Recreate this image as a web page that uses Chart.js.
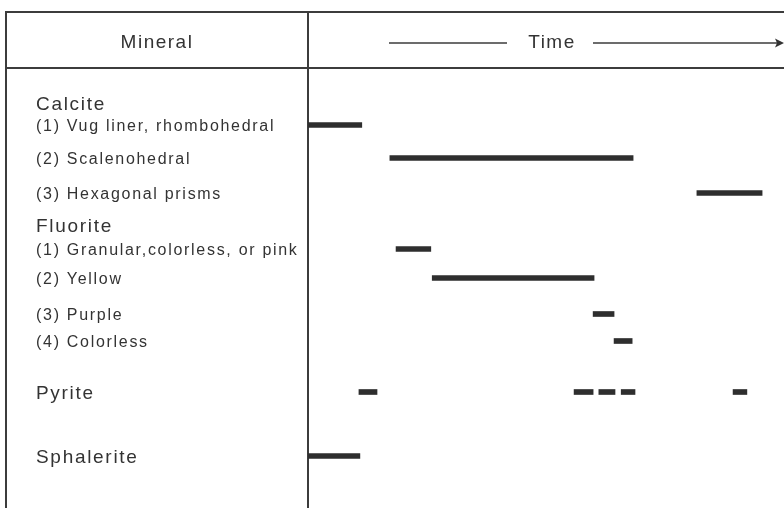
<!DOCTYPE html>
<html>
<head>
<meta charset="utf-8">
<script src="https://cdn.jsdelivr.net/npm/chart.js@4"></script>
<style>
  body { margin: 0; background: #fff; }
</style>
</head>
<body>
<canvas id="myChart" width="784" height="508"></canvas>
<script>
// row labels on the left, top to bottom
var minerals = [
  'Calcite',
  '(1) Vug liner, rhombohedral',
  '(2) Scalenohedral',
  '(3) Hexagonal prisms',
  'Fluorite',
  '(1) Granular,colorless, or pink',
  '(2) Yellow',
  '(3) Purple',
  '(4) Colorless',
  'Pyrite',
  'Sphalerite'
]
// vertical place of each row (down from the header line)
var rowPos = [35, 57, 90, 125, 157, 181, 210, 246, 273, 324, 388]
var headings = ['Calcite', 'Fluorite', 'Pyrite', 'Sphalerite']

// time spans (0 = start of sequence, 100 = end)
var barMineral = [
  '(1) Vug liner, rhombohedral',
  '(2) Scalenohedral',
  '(3) Hexagonal prisms',
  '(1) Granular,colorless, or pink',
  '(2) Yellow',
  '(3) Purple',
  '(4) Colorless',
  'Pyrite', 'Pyrite', 'Pyrite', 'Pyrite', 'Pyrite',
  'Sphalerite'
]
var barStart = [0, 17.2, 81.7, 18.5, 26.1, 59.9, 64.3, 10.7, 55.9, 61.1, 65.8, 89.3, 0]
var barEnd   = [11.3, 68.3, 95.4, 25.8, 60.1, 64.3, 68.1, 14.5, 59.9, 64.5, 68.7, 92.2, 10.9]

var spans = []
for (var i = 0; i < barMineral.length; i++) {
  spans.push({ x: [barStart[i], barEnd[i]], y: rowPos[minerals.indexOf(barMineral[i])] })
}

var ink = '#333'
var font = '"Liberation Sans", Arial, sans-serif'

// header box: Mineral | ---- Time ---->
var headerPlugin = {
  id: 'header',
  beforeDraw: function(chart) {
    chart.ctx.letterSpacing = '1.7px'
  },
  afterDraw: function(chart) {
    var ctx = chart.ctx
    var left = chart.chartArea.left
    ctx.save()
    ctx.letterSpacing = '1.5px'
    ctx.strokeStyle = '#3c3c3c'
    ctx.lineWidth = 2
    ctx.beginPath()
    ctx.moveTo(6, 12); ctx.lineTo(784, 12)
    ctx.moveTo(6, 68); ctx.lineTo(784, 68)
    ctx.moveTo(6, 11); ctx.lineTo(6, 508)
    ctx.moveTo(left, 12); ctx.lineTo(left, 68)
    ctx.stroke()

    ctx.fillStyle = ink
    ctx.font = '19px ' + font
    ctx.textAlign = 'center'
    ctx.textBaseline = 'middle'
    ctx.fillText('Mineral', 157, 43)
    ctx.fillText('Time', 552, 43)

    ctx.lineWidth = 1.3
    ctx.beginPath()
    ctx.moveTo(389, 43); ctx.lineTo(507, 43)
    ctx.moveTo(593, 43); ctx.lineTo(781, 43)
    ctx.stroke()
    ctx.beginPath()
    ctx.moveTo(784, 43); ctx.lineTo(775, 38.5); ctx.lineTo(777, 43); ctx.lineTo(775, 47.5)
    ctx.closePath()
    ctx.fill()
    ctx.restore()
  }
}

var myChart = document.getElementById('myChart').getContext('2d')

var chart = new Chart(myChart, {
  type: 'bar',
  data: {
    datasets: [{
      data: spans,
      backgroundColor: '#2e2e2e',
      borderWidth: 0,
      borderSkipped: false,
      barThickness: 5
    }]
  },
  options: {
    indexAxis: 'y',
    responsive: false,
    animation: false,
    layout: { padding: { top: 68, left: 36, right: 0, bottom: 0 } },
    plugins: {
      legend: { display: false },
      tooltip: { enabled: false }
    },
    scales: {
      x: {
        type: 'linear',
        display: false,
        min: 0,
        max: 100
      },
      y: {
        type: 'linear',
        reverse: true,
        offset: false,
        min: 0,
        max: 440,
        grid: { display: false },
        border: { display: true, color: '#3c3c3c', width: 2 },
        afterBuildTicks: function(scale) {
          scale.ticks = rowPos.map(function(v) { return { value: v } })
        },
        afterFit: function(scale) {
          scale.width = 272
          scale.paddingTop = 0
          scale.paddingBottom = 0
        },
        ticks: {
          autoSkip: false,
          crossAlign: 'far',
          labelOffset: 2,
          color: ink,
          callback: function(value, index) { return minerals[index] },
          font: function(c) {
            var big = headings.indexOf(minerals[c.index]) >= 0
            return { family: font, size: big ? 19 : 16 }
          }
        }
      }
    }
  },
  plugins: [headerPlugin]
})
</script>
</body>
</html>
